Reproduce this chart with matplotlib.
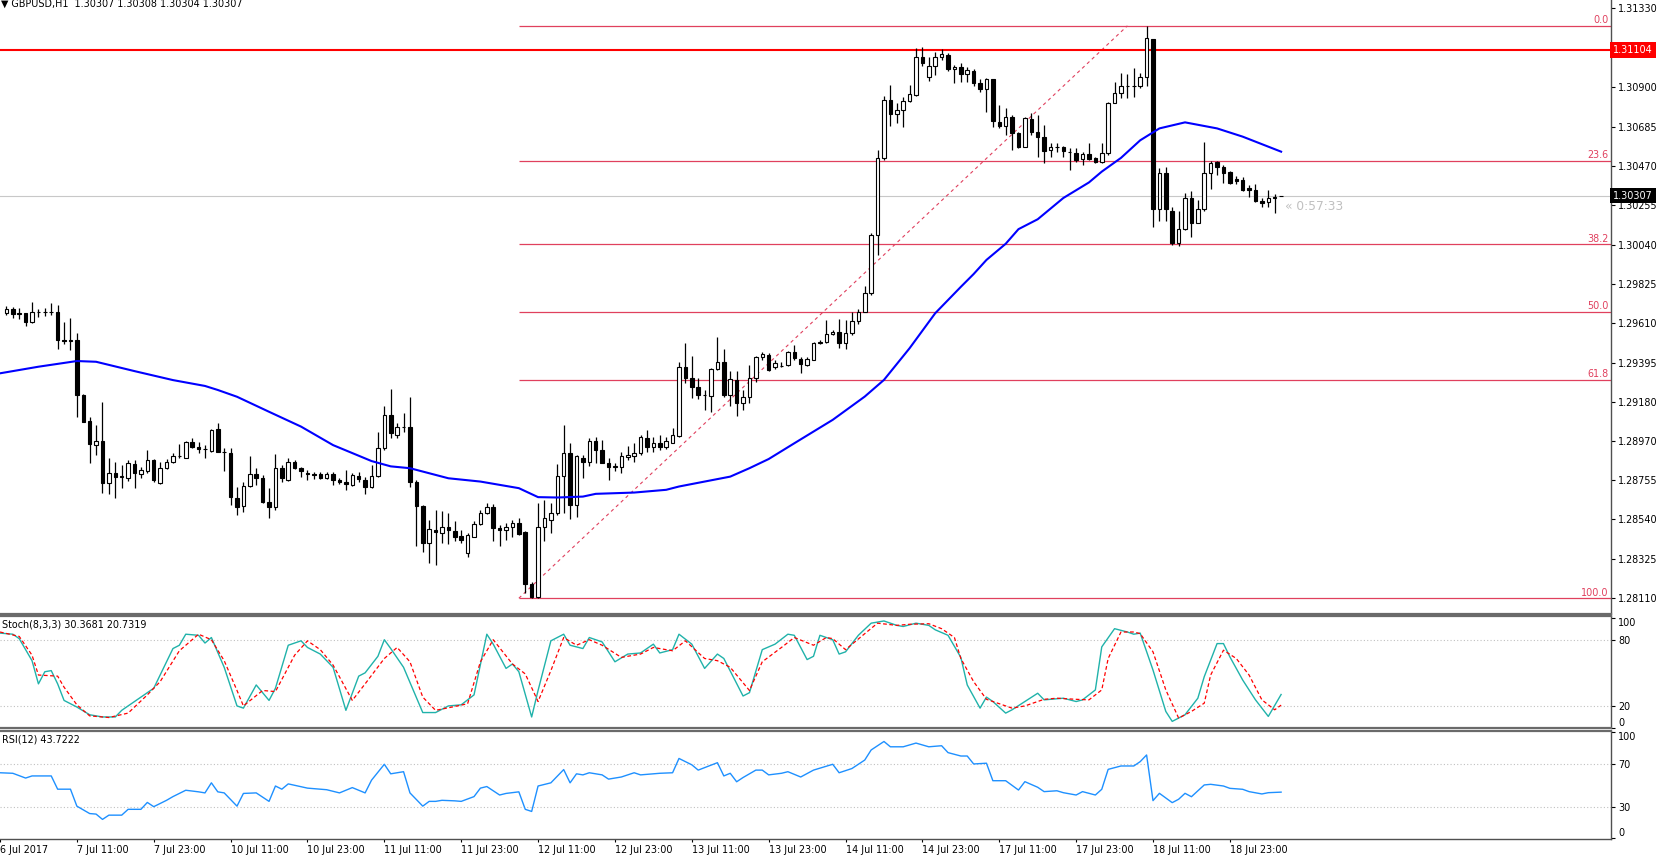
import matplotlib
matplotlib.use("Agg")
import matplotlib.pyplot as plt
import matplotlib.transforms as mtransforms
import numpy as np

# GBPUSD H1, bars 1..200 (bar 0 = 6 Jul 23:00, one bar per hour, weekends skipped)
opens = [
    1.29665, 1.29689, 1.29665, 1.29665, 1.29616, 1.29671, 1.29672, 1.29670, 1.29671, 1.29520,
    1.29514, 1.29520, 1.29219, 1.29077, 1.28946, 1.28968, 1.28737, 1.28792, 1.28774, 1.28768,
    1.28843, 1.28788, 1.28804, 1.28865, 1.28737, 1.28823, 1.28852, 1.28888, 1.28877, 1.28961,
    1.28934, 1.28925, 1.28914, 1.29032, 1.28910, 1.28901, 1.28659, 1.28615, 1.28723, 1.28786,
    1.28764, 1.28637, 1.28610, 1.28819, 1.28755, 1.28852, 1.28819, 1.28793, 1.28791, 1.28786,
    1.28768, 1.28786, 1.28755, 1.28743, 1.28728, 1.28779, 1.28755, 1.28719, 1.28779, 1.28932,
    1.29110, 1.29002, 1.29047, 1.29047, 1.28747, 1.28614, 1.28410, 1.28483, 1.28465, 1.28498,
    1.28478, 1.28450, 1.28356, 1.28447, 1.28516, 1.28574, 1.28607, 1.28492, 1.28480, 1.28501,
    1.28520, 1.28470, 1.28187, 1.28116, 1.28501, 1.28538, 1.28574, 1.28775, 1.28905, 1.28620,
    1.28876, 1.28856, 1.28966, 1.28920, 1.28851, 1.28829, 1.28829, 1.28880, 1.28887, 1.28902,
    1.28984, 1.28938, 1.28960, 1.28938, 1.28960, 1.28997, 1.29375, 1.29311, 1.29262, 1.29220,
    1.29215, 1.29360, 1.29402, 1.29220, 1.29302, 1.29175, 1.29211, 1.29311, 1.29426, 1.29439,
    1.29371, 1.29380, 1.29384, 1.29457, 1.29415, 1.29384, 1.29411, 1.29506, 1.29511, 1.29553,
    1.29566, 1.29502, 1.29557, 1.29621, 1.29675, 1.29775, 1.30093, 1.30512, 1.30830, 1.30754,
    1.30776, 1.30827, 1.30858, 1.31067, 1.30958, 1.31016, 1.31063, 1.31076, 1.30998, 1.31012,
    1.30972, 1.30990, 1.30925, 1.30888, 1.30943, 1.30712, 1.30688, 1.30739, 1.30648, 1.30575,
    1.30725, 1.30657, 1.30630, 1.30557, 1.30573, 1.30572, 1.30548, 1.30539, 1.30506, 1.30535,
    1.30512, 1.30494, 1.30539, 1.30816, 1.30867, 1.30907, 1.30906, 1.30907, 1.30958, 1.31161,
    1.30233, 1.30433, 1.30226, 1.30051, 1.30124, 1.30293, 1.30160, 1.30233, 1.30433, 1.30493,
    1.30462, 1.30439, 1.30397, 1.30393, 1.30348, 1.30339, 1.30280, 1.30273, 1.30297, 1.30307,
]
highs = [
    1.29707, 1.29700, 1.29693, 1.29668, 1.29729, 1.29689, 1.29696, 1.29720, 1.29711, 1.29620,
    1.29638, 1.29556, 1.29225, 1.29101, 1.29056, 1.29179, 1.28874, 1.28855, 1.28837, 1.28865,
    1.28865, 1.28828, 1.28919, 1.28870, 1.28855, 1.28870, 1.28901, 1.28950, 1.28968, 1.28986,
    1.28965, 1.28946, 1.29034, 1.29065, 1.28932, 1.28932, 1.28719, 1.28746, 1.28888, 1.28819,
    1.28783, 1.28710, 1.28895, 1.28837, 1.28877, 1.28865, 1.28828, 1.28810, 1.28801, 1.28797,
    1.28801, 1.28801, 1.28768, 1.28810, 1.28792, 1.28797, 1.28774, 1.28837, 1.29019, 1.29161,
    1.29252, 1.29069, 1.29120, 1.29208, 1.28756, 1.28620, 1.28538, 1.28592, 1.28589, 1.28574,
    1.28529, 1.28483, 1.28465, 1.28534, 1.28592, 1.28629, 1.28625, 1.28510, 1.28520, 1.28538,
    1.28547, 1.28475, 1.28201, 1.28632, 1.28647, 1.28632, 1.28844, 1.29057, 1.28956, 1.28890,
    1.28893, 1.28984, 1.28989, 1.28975, 1.28874, 1.28847, 1.28911, 1.28942, 1.28956, 1.29002,
    1.29029, 1.28993, 1.29002, 1.28993, 1.29038, 1.29402, 1.29502, 1.29430, 1.29311, 1.29248,
    1.29366, 1.29535, 1.29470, 1.29348, 1.29353, 1.29248, 1.29384, 1.29430, 1.29457, 1.29448,
    1.29411, 1.29402, 1.29462, 1.29493, 1.29426, 1.29426, 1.29511, 1.29520, 1.29630, 1.29575,
    1.29633, 1.29630, 1.29670, 1.29688, 1.29815, 1.30102, 1.30557, 1.30852, 1.30912, 1.30812,
    1.30845, 1.30912, 1.31112, 1.31118, 1.31067, 1.31094, 1.31107, 1.31085, 1.31021, 1.31030,
    1.31012, 1.30998, 1.30943, 1.30949, 1.30945, 1.30803, 1.30785, 1.30748, 1.30657, 1.30739,
    1.30757, 1.30748, 1.30694, 1.30594, 1.30597, 1.30579, 1.30566, 1.30566, 1.30548, 1.30597,
    1.30521, 1.30597, 1.30821, 1.30930, 1.30976, 1.30972, 1.31003, 1.30976, 1.31234, 1.31165,
    1.30457, 1.30466, 1.30248, 1.30226, 1.30324, 1.30335, 1.30284, 1.30602, 1.30499, 1.30499,
    1.30475, 1.30444, 1.30415, 1.30411, 1.30366, 1.30371, 1.30293, 1.30339, 1.30315, 1.30308,
]
lows = [
    1.29656, 1.29638, 1.29633, 1.29598, 1.29612, 1.29647, 1.29653, 1.29656, 1.29471, 1.29496,
    1.29465, 1.29101, 1.29070, 1.28850, 1.28892, 1.28683, 1.28677, 1.28655, 1.28713, 1.28752,
    1.28710, 1.28764, 1.28792, 1.28746, 1.28735, 1.28815, 1.28846, 1.28874, 1.28874, 1.28928,
    1.28901, 1.28874, 1.28910, 1.28906, 1.28804, 1.28619, 1.28564, 1.28582, 1.28719, 1.28728,
    1.28628, 1.28546, 1.28592, 1.28746, 1.28750, 1.28815, 1.28774, 1.28755, 1.28761, 1.28761,
    1.28761, 1.28728, 1.28732, 1.28701, 1.28723, 1.28746, 1.28679, 1.28710, 1.28774, 1.28919,
    1.28983, 1.28984, 1.29020, 1.28720, 1.28396, 1.28365, 1.28305, 1.28292, 1.28410, 1.28407,
    1.28425, 1.28414, 1.28334, 1.28443, 1.28511, 1.28571, 1.28425, 1.28396, 1.28428, 1.28447,
    1.28456, 1.28137, 1.28110, 1.28110, 1.28420, 1.28465, 1.28565, 1.28574, 1.28541, 1.28556,
    1.28765, 1.28833, 1.28847, 1.28847, 1.28756, 1.28802, 1.28796, 1.28865, 1.28856, 1.28893,
    1.28911, 1.28911, 1.28920, 1.28926, 1.28956, 1.28993, 1.29284, 1.29202, 1.29197, 1.29138,
    1.29129, 1.29357, 1.29211, 1.29160, 1.29106, 1.29138, 1.29175, 1.29293, 1.29411, 1.29348,
    1.29360, 1.29371, 1.29378, 1.29411, 1.29338, 1.29378, 1.29408, 1.29499, 1.29506, 1.29548,
    1.29475, 1.29469, 1.29548, 1.29608, 1.29670, 1.29767, 1.29984, 1.30503, 1.30688, 1.30706,
    1.30685, 1.30821, 1.30852, 1.31016, 1.30936, 1.30967, 1.31049, 1.30990, 1.30925, 1.30930,
    1.30930, 1.30907, 1.30876, 1.30767, 1.30681, 1.30676, 1.30639, 1.30557, 1.30566, 1.30572,
    1.30639, 1.30521, 1.30484, 1.30521, 1.30548, 1.30517, 1.30448, 1.30494, 1.30475, 1.30503,
    1.30488, 1.30488, 1.30530, 1.30812, 1.30839, 1.30839, 1.30845, 1.30894, 1.30907, 1.30139,
    1.30171, 1.30171, 1.30038, 1.30033, 1.30120, 1.30084, 1.30157, 1.30226, 1.30342, 1.30420,
    1.30375, 1.30371, 1.30371, 1.30335, 1.30302, 1.30275, 1.30248, 1.30248, 1.30215, 1.30304,
]
closes = [
    1.29689, 1.29660, 1.29663, 1.29616, 1.29674, 1.29672, 1.29670, 1.29671, 1.29520, 1.29514,
    1.29520, 1.29219, 1.29074, 1.28950, 1.28968, 1.28737, 1.28795, 1.28774, 1.28776, 1.28846,
    1.28792, 1.28810, 1.28865, 1.28755, 1.28823, 1.28855, 1.28888, 1.28884, 1.28961, 1.28937,
    1.28925, 1.28926, 1.29028, 1.28910, 1.28906, 1.28664, 1.28610, 1.28723, 1.28786, 1.28764,
    1.28637, 1.28610, 1.28819, 1.28764, 1.28855, 1.28823, 1.28804, 1.28791, 1.28783, 1.28768,
    1.28786, 1.28755, 1.28743, 1.28733, 1.28783, 1.28761, 1.28719, 1.28779, 1.28932, 1.29110,
    1.29010, 1.29047, 1.29043, 1.28747, 1.28614, 1.28410, 1.28487, 1.28469, 1.28501, 1.28480,
    1.28447, 1.28429, 1.28456, 1.28516, 1.28574, 1.28607, 1.28492, 1.28483, 1.28501, 1.28523,
    1.28461, 1.28187, 1.28116, 1.28501, 1.28547, 1.28574, 1.28775, 1.28902, 1.28620, 1.28884,
    1.28856, 1.28966, 1.28920, 1.28851, 1.28829, 1.28830, 1.28887, 1.28893, 1.28902, 1.28989,
    1.28938, 1.28960, 1.28938, 1.28966, 1.29002, 1.29375, 1.29311, 1.29262, 1.29220, 1.29221,
    1.29360, 1.29402, 1.29220, 1.29306, 1.29175, 1.29211, 1.29311, 1.29426, 1.29444, 1.29357,
    1.29393, 1.29378, 1.29457, 1.29420, 1.29389, 1.29415, 1.29506, 1.29508, 1.29553, 1.29566,
    1.29502, 1.29557, 1.29621, 1.29675, 1.29775, 1.30093, 1.30512, 1.30830, 1.30754, 1.30776,
    1.30827, 1.30863, 1.31067, 1.31034, 1.31016, 1.31063, 1.31080, 1.30998, 1.31009, 1.30972,
    1.30994, 1.30925, 1.30888, 1.30943, 1.30717, 1.30688, 1.30739, 1.30648, 1.30575, 1.30730,
    1.30657, 1.30630, 1.30554, 1.30575, 1.30572, 1.30554, 1.30545, 1.30503, 1.30535, 1.30506,
    1.30494, 1.30539, 1.30816, 1.30870, 1.30907, 1.30906, 1.30907, 1.30958, 1.31167, 1.30233,
    1.30433, 1.30233, 1.30051, 1.30124, 1.30293, 1.30160, 1.30233, 1.30433, 1.30488, 1.30462,
    1.30433, 1.30375, 1.30390, 1.30339, 1.30339, 1.30280, 1.30270, 1.30297, 1.30300, 1.30307,
]

# moving average
ma_bar = [0, 6, 12, 15, 21, 27, 32, 34, 37, 42, 47, 52, 58, 61, 64, 70, 75, 81, 84, 87,
          91, 93, 99, 104, 106, 110, 114, 117, 120, 124, 130, 135, 138, 142, 146, 150, 152, 154, 157, 159,
          162, 166, 170, 172, 175, 178, 181, 185, 190, 194, 200]
ma_val = [1.29338, 1.29374, 1.29405, 1.29401, 1.29350, 1.29301, 1.29269, 1.29247, 1.29210, 1.29128,
          1.29047, 1.28946, 1.28859, 1.28830, 1.28820, 1.28765, 1.28747, 1.28711, 1.28662, 1.28660,
          1.28665, 1.28680, 1.28687, 1.28702, 1.28720, 1.28747, 1.28774, 1.28820, 1.28870, 1.28956,
          1.29084, 1.29211, 1.29302, 1.29475, 1.29666, 1.29810, 1.29880, 1.29957, 1.30045, 1.30125,
          1.30179, 1.30295, 1.30380, 1.30439, 1.30514, 1.30610, 1.30675, 1.30708, 1.30675, 1.30630,
          1.30548]

# Stoch(8,3,3)
k_bar = [0, 2, 3, 5, 6, 7, 8, 9, 10, 12, 14, 16, 18, 19, 22, 24, 25, 27, 28, 29,
         31, 32, 33, 35, 37, 38, 40, 42, 43, 45, 47, 48, 50, 52, 54, 56, 57, 59, 60, 61,
         63, 66, 68, 70, 72, 74, 76, 77, 79, 80, 81, 83, 84, 86, 88, 89, 91, 92, 94, 96,
         98, 100, 102, 103, 105, 106, 108, 110, 112, 113, 116, 117, 119, 121, 123, 124, 126, 127, 128, 130,
         131, 132, 134, 136, 138, 140, 141, 143, 145, 146, 148, 150, 151, 153, 154, 155, 157, 158, 160, 162,
         163, 164, 166, 168, 169, 171, 172, 174, 176, 177, 178, 180, 182, 183, 185, 187, 188, 190, 191, 192,
         194, 196, 198, 200]
k_val = [86, 85, 81, 61, 40, 51, 52, 40, 25, 19, 12, 10, 10, 16, 28, 36, 48, 72, 75, 85,
         84, 77, 82, 55, 20, 18, 39, 25, 36, 75, 79, 73, 67, 55, 16, 47, 50, 65, 80, 72,
         55, 14, 14, 20, 21, 30, 85, 76, 54, 58, 51, 10, 34, 79, 85, 75, 72, 82, 78, 60,
         67, 68, 76, 68, 71, 85, 76, 54, 67, 63, 29, 32, 71, 76, 85, 84, 62, 65, 84, 80,
         67, 69, 84, 95, 97, 93, 92, 95, 93, 89, 84, 64, 39, 18, 28, 24, 13.5, 16.5, 24, 31.5,
         25.5, 26, 27, 24, 25.5, 34.5, 73.5, 90, 87, 85, 86, 52.5, 15, 6, 12, 27, 46.5, 76.5, 76.5, 64.5,
         43.5, 25.5, 10.5, 30.37]
d_bar = [0, 3, 5, 6, 9, 10, 12, 14, 17, 20, 23, 25, 28, 31, 33, 35, 37, 38, 41, 43,
         46, 48, 50, 52, 55, 57, 60, 62, 64, 66, 68, 71, 73, 75, 77, 80, 82, 84, 86, 88,
         90, 92, 94, 97, 100, 102, 105, 107, 110, 112, 114, 117, 119, 122, 124, 127, 129, 130, 132, 135,
         137, 140, 142, 145, 147, 149, 150, 152, 154, 155, 158, 160, 163, 165, 168, 170, 172, 173, 175, 177,
         178, 180, 182, 184, 186, 188, 189, 191, 193, 195, 197, 199, 200]
d_val = [87, 83, 66, 48, 47, 37, 21, 11, 9.5, 13.5, 30, 42, 70, 85, 80, 61, 34, 20, 34, 33,
         66, 79, 71, 57, 25, 40, 63, 73, 60, 28, 16, 19.5, 22, 60, 80, 58, 49, 24, 52, 82,
         75, 80, 75, 64, 67, 73, 70, 79, 63, 61, 55, 34, 60, 73, 82, 75, 82, 81, 71, 85.5,
         95, 93, 94, 94.5, 90, 82, 63, 42, 26, 24, 18, 20, 26, 27, 26, 25.5, 34.5, 63, 87, 87,
         85.5, 69, 34.5, 9, 15, 22.5, 48, 70.5, 63, 48, 25.5, 16.5, 20.73]

# RSI(12)
rsi_bar = [0, 2, 4, 5, 8, 9, 11, 12, 14, 15, 16, 17, 19, 20, 22, 23, 24, 26, 27, 29,
           31, 32, 33, 34, 35, 37, 38, 40, 42, 43, 44, 45, 48, 51, 53, 55, 57, 58, 60, 61,
           63, 64, 66, 67, 68, 69, 71, 72, 74, 75, 76, 78, 79, 81, 82, 83, 84, 86, 88, 89,
           90, 91, 92, 94, 95, 97, 99, 100, 103, 105, 106, 108, 109, 112, 113, 114, 115, 116, 118, 119,
           120, 122, 123, 125, 127, 130, 131, 133, 135, 136, 138, 139, 141, 143, 145, 147, 148, 150, 151, 152,
           154, 155, 157, 159, 160, 162, 163, 165, 166, 168, 169, 171, 172, 173, 175, 177, 178, 179, 180, 181,
           183, 184, 185, 186, 188, 189, 191, 192, 194, 195, 197, 198, 200]
rsi_val = [62, 61.5, 57, 59, 59, 46.5, 46.5, 30.5, 23.5, 23, 18, 22, 22, 27.5, 27.5, 34, 30, 36, 39.5, 45.5,
           44, 43, 52.5, 44, 43, 30.5, 42.5, 43, 35, 49.5, 46.5, 51.5, 47.5, 46, 43, 48, 43, 55, 70, 61,
           63, 43, 30.5, 35, 35, 36, 35.5, 35, 39.5, 47.5, 49, 41, 42.5, 44, 27.5, 25.5, 49.5, 52.5, 65, 52.5,
           61, 60, 62, 60, 56, 58, 62, 60, 61.5, 62, 75.5, 69.5, 64.5, 71.5, 59, 61.5, 53.5, 57.5, 64.5, 64.5,
           60, 61.5, 63, 58, 64.5, 70, 62, 66, 74, 83.5, 91.5, 86.5, 86.5, 90, 86.5, 87.5, 81, 77.8, 77.8, 70.3,
           71, 54.5, 54.5, 45.7, 53.6, 48.3, 44.2, 45, 43.2, 41, 44.2, 41, 46.4, 65.2, 68.4, 68.4, 72.5, 78.8, 35.7, 42.6,
           33.8, 37, 42.6, 39.4, 50.5, 51.1, 49.5, 47.3, 46.4, 44.2, 42, 43.2, 43.72]

# fibonacci retracement anchors (bar, price) and levels
fib_bars = [81, 176]
fib_prices = [1.28110, 1.31235]
fib_levels = [0.0, 23.6, 38.2, 50.0, 61.8, 100.0]
resistance = 1.31104
bid = 1.30307

price_ticks = [1.31330, 1.30900, 1.30685, 1.30470, 1.30255, 1.30040, 1.29825, 1.29610,
               1.29395, 1.29180, 1.28970, 1.28755, 1.28540, 1.28325, 1.28110]
time_labels = ["6 Jul 2017", "7 Jul 11:00", "7 Jul 23:00", "10 Jul 11:00", "10 Jul 23:00",
               "11 Jul 11:00", "11 Jul 23:00", "12 Jul 11:00", "12 Jul 23:00", "13 Jul 11:00",
               "13 Jul 23:00", "14 Jul 11:00", "14 Jul 23:00", "17 Jul 11:00", "17 Jul 23:00",
               "18 Jul 11:00", "18 Jul 23:00"]
time_label_bars = [0, 12, 24, 36, 48, 60, 72, 84, 96, 108, 120, 132, 144, 156, 168, 180, 192]

# ---------------------------------------------------------------
W, H = 1660, 859
FS = 6.9
FIB_C = '#e0405e'
plt.rcParams['font.family'] = 'DejaVu Sans'

fig = plt.figure(figsize=(W / 100, H / 100), dpi=100)


def box(top, bottom, right=1611):
    return [0, 1 - bottom / H, right / W, (bottom - top) / H]


ax = fig.add_axes(box(0, 614))
ax_st = fig.add_axes(box(616, 728), sharex=ax)
ax_rsi = fig.add_axes(box(731, 839), sharex=ax)

bars = np.arange(1, len(opens) + 1)
o = np.array(opens)
h = np.array(highs)
l = np.array(lows)
c = np.array(closes)
up = c > o

ax.vlines(bars, l, h, color='black', lw=0.9, zorder=3)
body_bottom = np.minimum(o, c)
body_h = np.maximum(np.abs(c - o), 0.000012)
ax.bar(bars[up], body_h[up], bottom=body_bottom[up], width=0.55, color='white',
       edgecolor='black', linewidth=0.8, zorder=4)
ax.bar(bars[~up], body_h[~up], bottom=body_bottom[~up], width=0.55, color='black',
       edgecolor='black', linewidth=0.8, zorder=4)

ax.plot(ma_bar, ma_val, color='#0000ff', lw=1.5, zorder=5)

xmin, xmax = 0.483, 251.5
blend = mtransforms.blended_transform_factory(ax.transAxes, ax.transData)
for lv in fib_levels:
    p = fib_prices[1] - lv / 100 * (fib_prices[1] - fib_prices[0])
    ax.hlines(p, fib_bars[0], xmax, color=FIB_C, lw=0.9, zorder=2)
    ax.text(0.9985, p + 0.00004, f"{lv:.1f}", transform=blend, ha='right', va='bottom',
            color=FIB_C, fontsize=FS)
ax.plot(fib_bars, fib_prices, color=FIB_C, lw=0.8, ls=(0, (3, 3)), zorder=2)

ax.axhline(resistance, color='#ff0000', lw=1.5, zorder=2)
ax.axhline(bid, color='#c8c8c8', lw=0.8, zorder=1)

ax.annotate('\u00ab 0:57:33', xy=(bars[-1], bid), xytext=(3, -7.5), textcoords='offset points',
            ha='left', va='center', color='#c0c0c0', fontsize=8.8)

ax.set_xlim(xmin, xmax)
ax.set_ylim(1.28024, 1.31376)
ax.yaxis.tick_right()
ax.set_yticks(price_ticks)
ax.set_yticklabels([f"{t:.5f}" for t in price_ticks])

for price, fc in [(resistance, '#ff0000'), (bid, 'black')]:
    ax.text(1.0013, price, f"{price:.5f}", transform=blend, ha='left', va='center',
            color='white', fontsize=FS, zorder=10, clip_on=False,
            bbox=dict(boxstyle='square,pad=0.28', fc=fc, ec='none'))

fig.text(1 / W, 1 - 3.5 / H, '\u25bc GBPUSD,H1  1.30307 1.30308 1.30304 1.30307',
         fontsize=FS, va='center', ha='left')

# stochastic
ax_st.plot(k_bar, k_val, color='#20b2aa', lw=1.0, zorder=3)
ax_st.plot(d_bar, d_val, color='#ff0000', lw=0.9, ls=(0, (3, 2)), zorder=3)
for lv in (80, 20):
    ax_st.axhline(lv, color='#c0c0c0', lw=0.8, ls=(0, (1, 2)), zorder=1)
ax_st.set_ylim(0.9, 101.5)
ax_st.yaxis.tick_right()
ax_st.set_yticks([0, 20, 80, 100])
ax_st.text(0.0015, 0.92, 'Stoch(8,3,3) 30.3681 20.7319', transform=ax_st.transAxes,
           fontsize=FS, va='center', ha='left')

# RSI
ax_rsi.plot(rsi_bar, rsi_val, color='#1e90ff', lw=1.0, zorder=3)
for lv in (70, 30):
    ax_rsi.axhline(lv, color='#c0c0c0', lw=0.8, ls=(0, (1, 2)), zorder=1)
ax_rsi.set_ylim(-0.5, 101.4)
ax_rsi.yaxis.tick_right()
ax_rsi.set_yticks([0, 30, 70, 100])
ax_rsi.text(0.0015, 0.917, 'RSI(12) 43.7222', transform=ax_rsi.transAxes,
            fontsize=FS, va='center', ha='left')

for a in (ax_st, ax_rsi):
    labs = a.get_yticklabels()
    labs[0].set_va('bottom')
    labs[-1].set_va('top')

for a in (ax, ax_st, ax_rsi):
    a.tick_params(axis='y', labelsize=FS, length=3, width=0.8, pad=2, colors='black')
    a.spines['left'].set_visible(False)
    a.spines['right'].set_color('#505050')
    a.spines['right'].set_linewidth(1.0)
    a.set_facecolor('white')

ax.spines['top'].set_visible(False)
ax.spines['bottom'].set_color('#6a6a6a')
ax.spines['bottom'].set_linewidth(1.6)
ax_st.spines['top'].set_color('#6a6a6a')
ax_st.spines['top'].set_linewidth(1.6)
ax_st.spines['bottom'].set_color('#6a6a6a')
ax_st.spines['bottom'].set_linewidth(1.6)
ax_rsi.spines['top'].set_color('#6a6a6a')
ax_rsi.spines['top'].set_linewidth(1.6)
ax_rsi.spines['bottom'].set_color('#505050')
ax_rsi.spines['bottom'].set_linewidth(1.0)

ax.tick_params(axis='x', bottom=False, labelbottom=False)
ax_st.tick_params(axis='x', bottom=False, labelbottom=False)
ax_rsi.set_xticks(time_label_bars)
ax_rsi.set_xticklabels(time_labels, ha='left')
ax_rsi.tick_params(axis='x', labelsize=FS, length=2, width=0.8, pad=2.5)

fig.savefig('out.png', dpi=100)
